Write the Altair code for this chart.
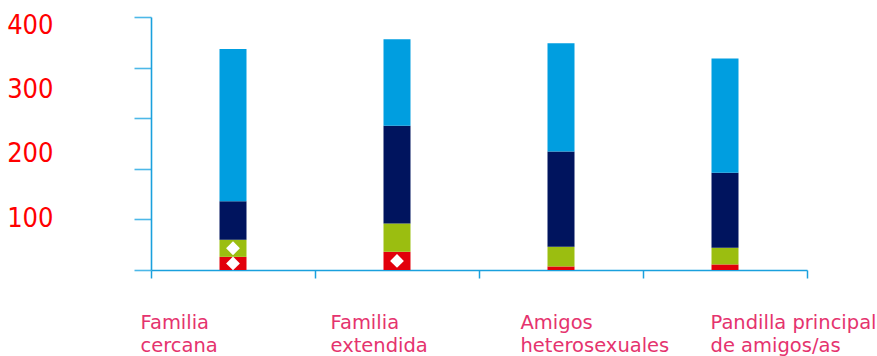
import altair as alt
import pandas as pd

# ---- data ----
categories = ["Familia cercana", "Familia extendida", "Amigos heterosexuales",
              "Pandilla principal de amigos/as"]
series_names = ["Serie 1", "Serie 2", "Serie 3", "Serie 4"]
serie1 = [26, 36, 7, 11]        # red (bottom)
serie2 = [34, 56, 39, 33]       # green
serie3 = [76, 193, 188, 148]    # navy
serie4 = [301, 171, 214, 226]   # light blue (top)
marker_points = [("Familia cercana", "Serie 1"), ("Familia cercana", "Serie 2"),
                 ("Familia extendida", "Serie 1")]
axis_ticks = [0, 100, 200, 300, 400, 500]
y_labels = [100, 200, 300, 400]

series_values = [serie1, serie2, serie3, serie4]
rows = []
for k, (name, vals) in enumerate(zip(series_names, series_values)):
    for cat, v in zip(categories, vals):
        rows.append({"category": cat, "serie": name, "value": v, "order": k,
                     "marker": (cat, name) in marker_points})
df = pd.DataFrame(rows)

colors = ["#E2000B", "#9BBE10", "#00145E", "#009EE0"]
axis_blue = "#1AA0DD"

x_axis = alt.Axis(orient="bottom", title=None, labels=False, domainColor=axis_blue,
                  domainWidth=1.6, tickColor=axis_blue, tickWidth=1.5, tickSize=8,
                  tickBand="extent", grid=False)
y_axis = alt.Axis(orient="left", title=None, labels=False, values=axis_ticks,
                  domainColor=axis_blue, domainWidth=1.6, tickColor="#4DB8E8",
                  tickWidth=1.6, tickSize=17, grid=False)
x_enc = alt.X("category:N", sort=categories,
              scale=alt.Scale(paddingInner=0, paddingOuter=0), axis=x_axis)
y_scale = alt.Scale(domain=[0, 500], nice=False)

bars = alt.Chart(df).mark_bar(size=27).encode(
    x=x_enc,
    y=alt.Y("value:Q", stack="zero", scale=y_scale, axis=y_axis),
    color=alt.Color("serie:N", scale=alt.Scale(domain=series_names, range=colors),
                    legend=None),
    order=alt.Order("order:Q"),
)

markers = alt.Chart(df).transform_stack(
    stack="value", groupby=["category"], as_=["y0", "y1"],
    sort=[alt.SortField("order", order="ascending")]
).transform_calculate(
    mid="(datum.y0 + datum.y1) / 2"
).transform_filter(
    "datum.marker"
).mark_point(shape="diamond", filled=True, color="white", size=190, opacity=1).encode(
    x=x_enc,
    y=alt.Y("mid:Q", scale=y_scale, axis=y_axis),
)

inner = alt.layer(bars, markers)

ylab_df = pd.DataFrame({"v": y_labels})
ylab = alt.Chart(ylab_df).mark_point(opacity=0).encode(
    y=alt.Y("v:Q", scale=alt.Scale(domain=[19, 413.7], nice=False, zero=False),
            axis=alt.Axis(orient="right", offset=-754, values=y_labels, title=None,
                          ticks=False, tickSize=0, domain=False, grid=False,
                          labelAlign="right", labelBaseline="middle", labelPadding=0,
                          labelColor="#FF0000",
                          labelFont="DejaVu Sans Condensed, Liberation Sans",
                          labelFontSize=27))
)

xlab_df = pd.DataFrame({"category": categories})
xlab = alt.Chart(xlab_df).mark_point(opacity=0).encode(
    x=alt.X("category:N", sort=categories,
            scale=alt.Scale(type="point", padding=0.2263, align=0),
            axis=alt.Axis(orient="bottom", title=None, ticks=False, tickSize=0,
                          domain=False, grid=False, labelAlign="left", labelAngle=0,
                          labelOverlap=False, labelBaseline="top", labelPadding=43,
                          labelOffset=-11, labelColor="#E5336E",
                          labelFont="DejaVu Sans", labelFontSize=19.5,
                          labelLineHeight=23.5, labelLimit=400,
                          labelExpr="datum.label == 'Pandilla principal de amigos/as' ? ['Pandilla principal', 'de amigos/as'] : split(datum.label, ' ')"))
)

chart = alt.layer(inner, ylab, xlab).resolve_scale(
    x="independent", y="independent"
).properties(
    width=656, height=253,
    autosize=alt.AutoSizeParams(type="none"),
    padding={"left": 151, "top": 17, "right": 70, "bottom": 86},
    background="white",
).configure_view(stroke=None)

chart.save("out.html", embed_options={"renderer": "svg", "actions": False})
